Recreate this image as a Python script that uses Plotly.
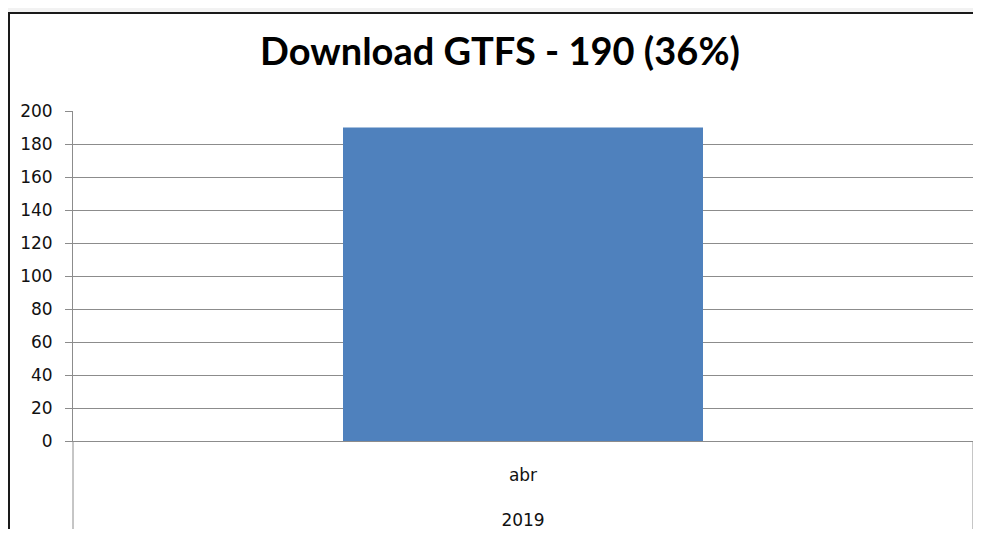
import plotly.graph_objects as go

years = ["2019"]
months = ["abr"]
downloads = [190]
y_ticks = [0, 20, 40, 60, 80, 100, 120, 140, 160, 180, 200]
title_text = "Download GTFS - 190 (36%)"

# the page body keeps its 8px margin, so the figure sits at (8, 8)
W, H = 965, 521
left, right, top, bottom = 65, 0, 103, 88
plot_w = W - left - right
plot_h = H - top - bottom


def px_x(px):
    return (px - left) / plot_w


def px_y(py):
    return (H - bottom - py) / plot_h


fig = go.Figure()

fig.add_trace(
    go.Bar(
        x=months,
        y=downloads,
        marker=dict(color="#4F81BD", line=dict(width=0)),
        hoverinfo="y",
    )
)

grid = "#8C8C8C"

# window frame around the chart
fig.add_shape(type="rect", xref="paper", yref="paper",
              x0=px_x(0), x1=px_x(W), y0=px_y(4), y1=px_y(0),
              fillcolor="#F2F2F2", line=dict(width=0), layer="below")
fig.add_shape(type="line", xref="paper", yref="paper",
              x0=px_x(0), x1=px_x(W), y0=px_y(5), y1=px_y(5),
              line=dict(color="#1A1A1A", width=2))
fig.add_shape(type="line", xref="paper", yref="paper",
              x0=px_x(1), x1=px_x(1), y0=px_y(5), y1=px_y(H),
              line=dict(color="#1A1A1A", width=2))

# category box below the axis
for xp in (0, 1):
    fig.add_shape(type="line", xref="paper", yref="paper",
                  x0=xp, x1=xp, y0=0, y1=px_y(H),
                  line=dict(color=grid, width=1))

fig.update_layout(
    width=W,
    height=H,
    margin=dict(l=left, r=right, t=top, b=bottom, autoexpand=False),
    paper_bgcolor="white",
    plot_bgcolor="white",
    showlegend=False,
    bargap=0.6,
    title=dict(
        text=title_text,
        x=492 / W,
        xanchor="center",
        xref="container",
        y=1 - 43.5 / H,
        yanchor="middle",
        yref="container",
        font=dict(family="Lato", size=38, color="black", weight="bold"),
    ),
    font=dict(family="DejaVu Sans", size=17, color="#111111"),
)

fig.update_yaxes(
    range=[0, 200],
    tickvals=y_ticks,
    showgrid=True,
    gridcolor=grid,
    gridwidth=1,
    showline=True,
    linecolor=grid,
    linewidth=1,
    ticks="outside",
    ticklen=7,
    tickcolor=grid,
    zeroline=False,
    ticklabelstandoff=9,
    automargin=False,
    fixedrange=True,
)

fig.update_xaxes(
    type="category",
    tickvals=months,
    ticktext=[f"{m}<br><br>{y}" for m, y in zip(months, years)],
    showline=True,
    linecolor=grid,
    ticks="",
    ticklabelstandoff=19,
    automargin=False,
    fixedrange=True,
)

fig.write_html("out.html")
